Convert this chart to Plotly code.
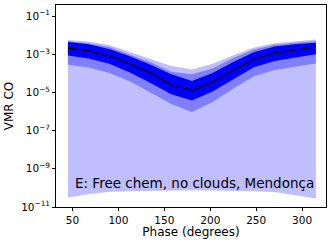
import plotly.graph_objects as go
import numpy as np

phase = [45, 67.5, 90, 112.5, 135, 157.5, 180, 202.5, 225, 247.5, 270, 292.5, 315]
# log10 VMR values
med   = [-2.68, -2.82, -3.08, -3.50, -3.98, -4.60, -4.89, -4.45, -3.82, -3.25, -2.93, -2.78, -2.62]
s1_hi = [-2.36, -2.48, -2.72, -3.10, -3.55, -4.05, -4.40, -3.98, -3.40, -2.90, -2.60, -2.47, -2.40]
s1_lo = [-3.07, -3.22, -3.50, -3.95, -4.50, -5.10, -5.42, -4.95, -4.30, -3.68, -3.35, -3.17, -3.00]
s2_hi = [-2.32, -2.42, -2.62, -3.00, -3.42, -3.92, -4.05, -3.75, -3.20, -2.75, -2.50, -2.40, -2.32]
s2_lo = [-3.55, -3.70, -3.98, -4.42, -5.00, -5.60, -6.02, -5.50, -4.80, -4.15, -3.82, -3.65, -3.49]
s3_hi = [-2.25, -2.33, -2.52, -2.88, -3.25, -3.62, -3.80, -3.50, -3.05, -2.65, -2.42, -2.32, -2.23]
s3_lo = [-10.50, -10.33, -10.20, -10.17, -10.15, -10.13, -10.12, -10.13, -10.14, -10.17, -10.22, -10.38, -10.55]

ytick_exp = [-1, -3, -5, -7, -9, -11]
xtick_vals = [50, 100, 150, 200, 250, 300]

def v(a):
    return [10 ** x for x in a]

fig = go.Figure()

def band(lo, hi, color):
    fig.add_trace(go.Scatter(x=phase + phase[::-1], y=v(hi) + v(lo)[::-1],
                             fill="toself", fillcolor=color, mode="lines",
                             line=dict(width=0), hoverinfo="skip", showlegend=False))

band(s3_lo, s3_hi, "#bfbfff")
band(s2_lo, s2_hi, "#8080ff")
band(s1_lo, s1_hi, "#0000ff")
fig.add_trace(go.Scatter(x=phase, y=v(med), mode="lines",
                         line=dict(color="black", width=1.2), showlegend=False))

font = dict(family="DejaVu Sans", size=10.5, color="black")
fig.update_layout(
    width=332, height=243,
    margin=dict(l=56, r=6, t=5, b=36),
    paper_bgcolor="white", plot_bgcolor="white",
    font=font,
    xaxis=dict(range=[32, 326], tickvals=xtick_vals, ticks="outside", ticklen=3,
               tickwidth=0.8, tickcolor="black", showgrid=False, zeroline=False,
               showline=True, linecolor="black", linewidth=0.8, mirror=True,
               title=dict(text="Phase (degrees)", font=dict(size=12), standoff=3),
               tickfont=dict(size=10.5)),
    yaxis=dict(type="log", range=[-11, -0.42],
               tickvals=[10 ** e for e in ytick_exp],
               ticktext=["10<sup>\u2212%d</sup>" % (-e) for e in ytick_exp],
               ticks="outside", ticklen=3, tickwidth=0.8, tickcolor="black",
               showgrid=False, zeroline=False, showline=True, linecolor="black",
               linewidth=0.8, mirror=True,
               title=dict(text="VMR CO", font=dict(size=12), standoff=4),
               tickfont=dict(size=10.5)),
)
fig.add_annotation(text="E: Free chem, no clouds, Mendonça", xref="paper", yref="paper",
                   x=0.962, y=0.119, xanchor="right", yanchor="middle", showarrow=False,
                   font=dict(family="DejaVu Sans", size=13.5, color="black"))

fig.write_html("out.html", config={"displayModeBar": False},
               post_script="document.body.style.margin='0';document.body.style.padding='0';document.body.style.overflow='hidden';")
